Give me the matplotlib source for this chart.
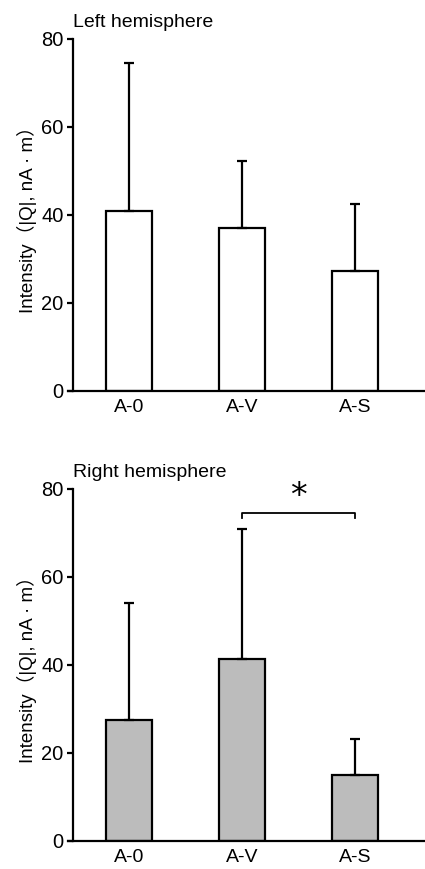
import matplotlib
matplotlib.use('Agg')
import matplotlib.pyplot as plt
import numpy as np

plt.rcParams['font.family'] = ['Liberation Sans', 'Noto Sans CJK SC', 'DejaVu Sans']

# --------------------------------Data---------------------------------------------
conditions = ['A-0', 'A-V', 'A-S']
left_mean = [40.9, 37.1, 27.3]
left_sd = [33.6, 15.2, 15.2]
right_mean = [27.6, 41.4, 14.9]
right_sd = [26.6, 29.4, 8.3]
ylabel = 'Intensity（|Q|, nA · m）'

fig = plt.figure(figsize=(4.25, 8.69), dpi=100)
ax_top = fig.add_axes([68 / 425, 1 - 390.7 / 869, 1 - 68 / 425, (390.7 - 39) / 869])
ax_bot = fig.add_axes([68 / 425, 1 - 841 / 869, 1 - 68 / 425, (841 - 489) / 869])


def draw_panel(ax, mean, sd, color, title):
    x = np.arange(len(conditions))
    ax.bar(x, mean, width=0.41, color=color, edgecolor='black', linewidth=1.6, zorder=2)
    ax.errorbar(x, mean, yerr=[np.zeros(len(sd)), sd], fmt='none', ecolor='black',
                elinewidth=1.6, capsize=3.5, capthick=1.6, zorder=3)
    ax.set_xlim(-0.54, 2.62)
    ax.set_ylim(0, 80)
    ax.set_yticks([0, 20, 40, 60, 80])
    ax.set_xticks(x)
    ax.set_xticklabels(conditions, fontsize=14)
    ax.tick_params(axis='y', labelsize=14.5, width=1.6, length=4.5, pad=2)
    ax.tick_params(axis='x', length=0, pad=6)
    for s in ['top', 'right']:
        ax.spines[s].set_visible(False)
    ax.spines['left'].set_position(('data', -0.5))
    ax.spines['left'].set_linewidth(1.6)
    ax.spines['bottom'].set_linewidth(1.6)
    ax.set_ylabel(ylabel, fontsize=13.5, labelpad=3)
    ax.text(-0.5, 81.8, title, fontsize=14, ha='left', va='bottom', clip_on=False)


draw_panel(ax_top, left_mean, left_sd, 'white', 'Left hemisphere')
draw_panel(ax_bot, right_mean, right_sd, '#bcbcbc', 'Right hemisphere')

# significance bracket between A-V and A-S
ax_bot.plot([1, 1, 2, 2], [73.3, 74.5, 74.5, 73.3], color='black', linewidth=1.3)
ax_bot.text(1.5, 74.5, '*', ha='center', va='bottom', fontsize=24, family='DejaVu Sans')

fig.savefig('out.png', dpi=100)
